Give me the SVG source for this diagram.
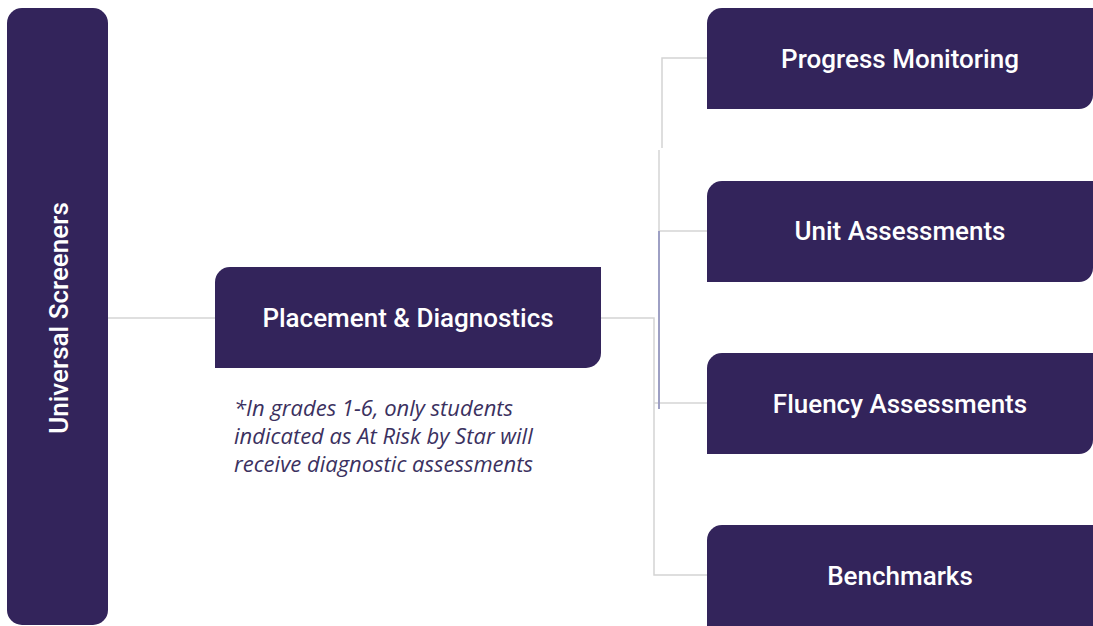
<svg xmlns="http://www.w3.org/2000/svg" width="1093" height="626" viewBox="0 0 1093 626">
<style>
.box{fill:#33245b}
.lbl{font-family:Roboto,"Liberation Sans",sans-serif;font-weight:500;font-size:26px;fill:#ffffff;text-anchor:middle;dominant-baseline:central}
.ln{fill:none;stroke:#d4d4d4;stroke-width:1.5}
.note{font-family:"Open Sans","Liberation Sans",sans-serif;font-style:italic;font-size:22px;fill:#3b3160}
</style>
<rect width="1093" height="626" fill="#ffffff"/>
<g id="connectors">
<path class="ln" d="M108 318 H215"/>
<path class="ln" d="M601 318 H654 V575 H707"/>
<path class="ln" d="M654 403 H707"/>
<path class="ln" d="M707 58 H662 V148"/>
<path class="ln" d="M659 150 V231"/>
<path class="ln" d="M659 231 H707"/>
<path fill="none" stroke="#9ea0c4" stroke-width="2" d="M659 231 V409"/>
</g>
<g id="universal-screeners">
<rect class="box" x="7" y="8" width="101" height="617" rx="15"/>
<text class="lbl" transform="translate(59 318) rotate(-90)">Universal Screeners</text>
</g>
<g id="placement">
<path class="box" d="M230 267 H601 V353 A15 15 0 0 1 586 368 H215 V282 A15 15 0 0 1 230 267 Z"/>
<text class="lbl" x="408" y="318">Placement &amp; Diagnostics</text>
</g>
<g id="note">
<text class="note" x="234" y="416">*In grades 1-6, only students</text>
<text class="note" x="234" y="444">indicated as At Risk by Star will</text>
<text class="note" x="234" y="472">receive diagnostic assessments</text>
</g>
<g id="progress">
<path class="box" d="M722 8 H1093 V95 A14 14 0 0 1 1079 109 H707 V23 A15 15 0 0 1 722 8 Z"/>
<text class="lbl" x="900" y="59">Progress Monitoring</text>
</g>
<g id="unit">
<path class="box" d="M722 181 H1093 V268 A14 14 0 0 1 1079 282 H707 V196 A15 15 0 0 1 722 181 Z"/>
<text class="lbl" x="900" y="231">Unit Assessments</text>
</g>
<g id="fluency">
<path class="box" d="M722 353 H1093 V440 A14 14 0 0 1 1079 454 H707 V368 A15 15 0 0 1 722 353 Z"/>
<text class="lbl" x="900" y="404">Fluency Assessments</text>
</g>
<g id="benchmarks">
<path class="box" d="M722 525 H1093 V626 H707 V540 A15 15 0 0 1 722 525 Z"/>
<text class="lbl" x="900" y="576">Benchmarks</text>
</g>
</svg>
